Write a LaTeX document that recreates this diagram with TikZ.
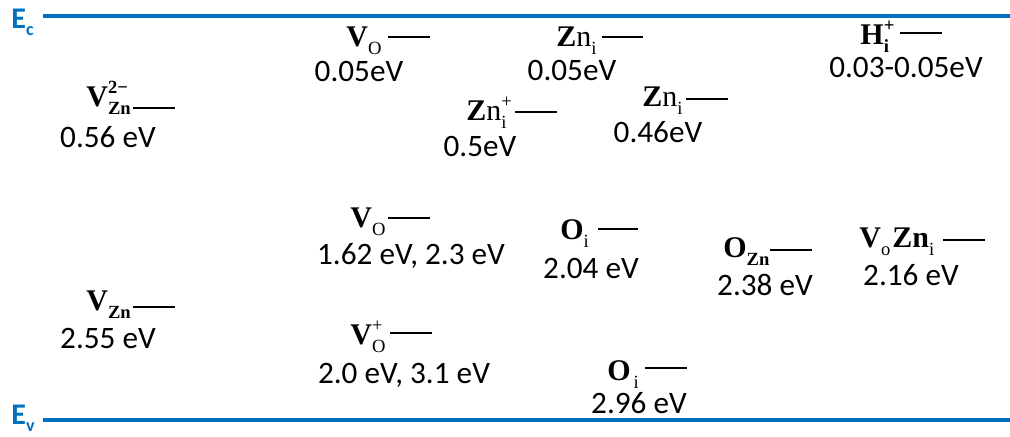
\documentclass[tikz,border=0pt]{standalone}
\usepackage{fontspec}
\setmainfont{Carlito}
\newfontfamily\tms{Liberation Serif}
\usetikzlibrary{positioning}
\definecolor{bandblue}{RGB}{0,112,192}
% small indices for the defect symbols
\newcommand{\dsz}{\fontsize{9.3}{11}\selectfont}
\newcommand{\dsub}[1]{\raisebox{-4pt}{\dsz #1}}
\newcommand{\subsup}[2]{\rlap{\raisebox{6.5pt}{\dsz #2}}\raisebox{-4pt}{\dsz #1}}
\newcommand{\bandsub}[1]{\raisebox{-3.5pt}{\fontsize{9}{11}\selectfont #1}}
\tikzset{
  band line/.style={
    draw=bandblue,
    line width=2pt
  },
  band label/.style={
    text=bandblue,
    font=\fontsize{15}{18}\selectfont\bfseries,
    anchor=base west,
    inner sep=0pt
  },
  level/.style={
    line width=1.3pt,
    black
  },
  defect/.style={
    font=\tms\fontsize{15}{17}\selectfont\bfseries,
    anchor=base west,
    inner sep=0pt
  },
  energy/.style={
    font=\fontsize{15.6}{18}\selectfont,
    anchor=base,
    inner sep=0pt
  }
}
\begin{document}
\begin{tikzpicture}[x=0.5pt, y=-0.5pt]
    \useasboundingbox (0,0) rectangle (1010,436);

    % conduction band edge
    \node[band label] (ec) at (11,28) {E\bandsub{c}};
    \coordinate (ecl) at (43,16);
    \coordinate (ecr) at (1010,16);
    \draw[band line] (ecl) -- (ecr);

    % valence band edge
    \node[band label] (ev) at (11,424) {E\bandsub{v}};
    \coordinate (evl) at (43,420);
    \coordinate (evr) at (1010,420);
    \draw[band line] (evl) -- (evr);

    % V_Zn^{2-}
    \node[defect] (vznA) at (86,106) {V\subsup{Zn}{2−}};
    \coordinate (vznAl) at (133,108);
    \draw[level] (vznAl) -- ++(42,0);
    \node[energy] (vznAe) at (108,147) {0.56 eV};

    % V_O (shallow)
    \node[defect] (voA) at (346,46) {V\dsub{\mdseries O}};
    \coordinate (voAl) at (388,37);
    \draw[level] (voAl) -- ++(42,0);
    \node[energy] (voAe) at (359,81) {0.05eV};

    % Zn_i (shallow)
    \node[defect] (zniA) at (556,46) {Z\mdseries n\dsub{i}};
    \coordinate (zniAl) at (602,37);
    \draw[level] (zniAl) -- ++(41,0);
    \node[energy] (zniAe) at (572,80) {0.05eV};

    % H_i^+
    \node[defect] (hi) at (860,44) {H\subsup{i}{+}};
    \coordinate (hil) at (900,33);
    \draw[level] (hil) -- ++(42,0);
    \node[energy] (hie) at (906,77) {0.03-0.05eV};

    % Zn_i^+
    \node[defect] (zniP) at (466,120) {Z\mdseries n\subsup{i}{+}};
    \coordinate (zniPl) at (515,112);
    \draw[level] (zniPl) -- ++(42,0);
    \node[energy] (zniPe) at (480,156) {0.5eV};

    % Zn_i (0.46)
    \node[defect] (zniB) at (642,106) {Z\mdseries n\dsub{i}};
    \coordinate (zniBl) at (686,99);
    \draw[level] (zniBl) -- ++(42,0);
    \node[energy] (zniBe) at (658,142) {0.46eV};

    % V_O (deep)
    \node[defect] (voB) at (350,227) {V\dsub{\mdseries O}};
    \coordinate (voBl) at (388,218);
    \draw[level] (voBl) -- ++(42,0);
    \node[energy] (voBe) at (411,264) {1.62 eV, 2.3 eV};

    % O_i (2.04)
    \node[defect] (oiA) at (560,239) {O\dsub{\mdseries i}};
    \coordinate (oiAl) at (598,229);
    \draw[level] (oiAl) -- ++(40,0);
    \node[energy] (oiAe) at (591,278) {2.04 eV};

    % O_Zn
    \node[defect] (ozn) at (723,257) {O\dsub{Zn}};
    \coordinate (oznl) at (770,250);
    \draw[level] (oznl) -- ++(42,0);
    \node[energy] (ozne) at (765,295) {2.38 eV};

    % V_o Zn_i complex
    \node[defect] (vozni) at (859,247) {V\dsub{\mdseries o}\kern1pt Zn\dsub{\mdseries i}};
    \coordinate (voznil) at (943,240);
    \draw[level] (voznil) -- ++(42,0);
    \node[energy] (voznie) at (911,285) {2.16 eV};

    % V_Zn
    \node[defect] (vznB) at (86,310) {V\dsub{Zn}};
    \coordinate (vznBl) at (133,307);
    \draw[level] (vznBl) -- ++(42,0);
    \node[energy] (vznBe) at (108,348) {2.55 eV};

    % V_O^+
    \node[defect] (voP) at (350,344) {V\subsup{\mdseries O}{\mdseries +}};
    \coordinate (voPl) at (390,333);
    \draw[level] (voPl) -- ++(42,0);
    \node[energy] (voPe) at (404,383) {2.0 eV, 3.1 eV};

    % O_i (2.96)
    \node[defect] (oiB) at (607,380) {O\kern1.5pt\dsub{\mdseries i}};
    \coordinate (oiBl) at (645,368);
    \draw[level] (oiBl) -- ++(42,0);
    \node[energy] (oiBe) at (639,413) {2.96 eV};

\end{tikzpicture}
\end{document}
